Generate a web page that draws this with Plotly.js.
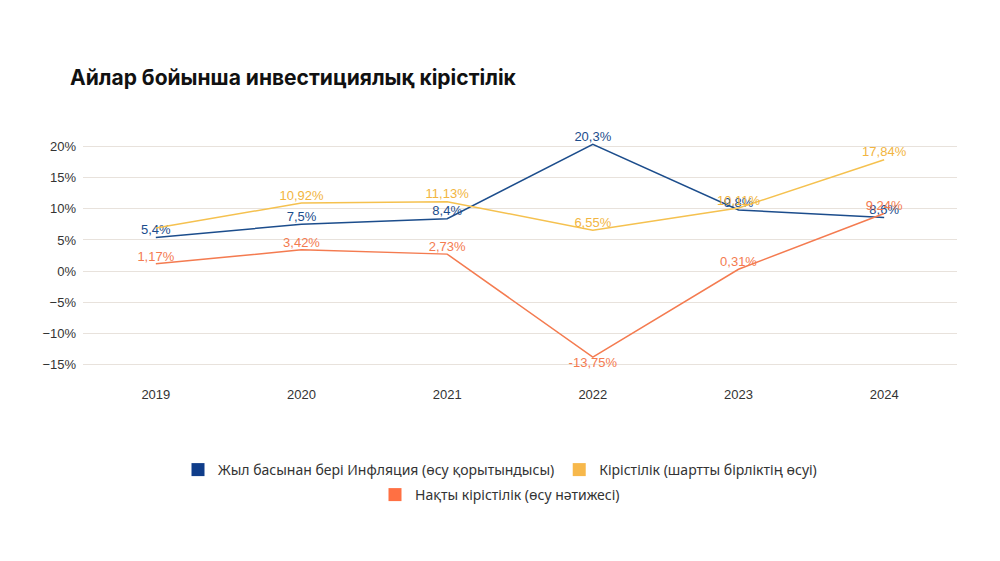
<!DOCTYPE html>
<html><head><meta charset="utf-8">
<script src="https://cdn.plot.ly/plotly-3.0.1.min.js"></script>
<style>html,body{margin:0;padding:0;background:#fff;}</style>
</head><body><div id="chart" style="width:1000px;height:561px;"></div>
<script>
const years = ['2019','2020','2021','2022','2023','2024'];
const inflation = [5.4, 7.5, 8.4, 20.3, 9.8, 8.6];
const yieldNominal = [6.9, 10.92, 11.13, 6.55, 10.11, 17.84];
const yieldReal = [1.17, 3.42, 2.73, -13.75, 0.31, 9.24];
const yieldNominalShowLabel = [false, true, true, true, true, true];
const seriesNames = ['Жыл басынан бері Инфляция (өсу қорытындысы)', 'Кірістілік (шартты бірліктің өсуі)', 'Нақты кірістілік (өсу нәтижесі)'];
const colors = ['#1c4d8c', '#f5c14f', '#f47b50'];
const legendColors = ['#0f3d8a', '#f7b84b', '#ff7043'];

const fmt = v => String(v).replace('.', ',') + '%';
const labelFont = c => ({family: 'Liberation Sans, Arial, sans-serif', size: 13, color: c});

const traces = [
  {x: years, y: inflation, mode: 'lines+text', line: {color: colors[0], width: 1.5},
   text: inflation.map(fmt), textposition: 'top center', textfont: labelFont(colors[0]),
   showlegend: false, hoverinfo: 'skip', cliponaxis: false},
  {x: years, y: yieldNominal, mode: 'lines+text', line: {color: colors[1], width: 1.5},
   text: yieldNominal.map((v, i) => yieldNominalShowLabel[i] ? fmt(v) : ''), textposition: 'top center',
   textfont: labelFont('#f2b541'), showlegend: false, hoverinfo: 'skip', cliponaxis: false},
  {x: years, y: yieldReal, mode: 'lines+text', line: {color: colors[2], width: 1.5},
   text: yieldReal.map(fmt), textposition: yieldReal.map(v => v < 0 ? 'bottom center' : 'top center'),
   textfont: labelFont(colors[2]), showlegend: false, hoverinfo: 'skip', cliponaxis: false}
];
seriesNames.forEach((n, i) => {
  traces.push({x: [null], y: [null], mode: 'markers', name: n,
    marker: {symbol: 'square', size: 13, color: legendColors[i]},
    legend: i < 2 ? 'legend' : 'legend2', hoverinfo: 'skip'});
});

const legFont = {family: 'Noto Sans, sans-serif', size: 14, color: '#333'};
const layout = {
  width: 1000, height: 561,
  margin: {l: 83, r: 43, t: 140, b: 193},
  paper_bgcolor: '#fff', plot_bgcolor: '#fff',
  title: {text: 'Айлар бойынша инвестициялық кірістілік', x: 0.07, xanchor: 'left', xref: 'container',
    y: 1 - 78/561, yanchor: 'middle', yref: 'container',
    font: {family: 'Inter, Noto Sans, sans-serif', size: 21, color: '#111', weight: 700}},
  xaxis: {type: 'category', range: [-0.5, 5.5], showgrid: false, zeroline: false, showline: false,
    ticks: '', ticklabelstandoff: 17,
    tickfont: {family: 'Liberation Sans, Arial, sans-serif', size: 13, color: '#333'}},
  yaxis: {range: [-15.5, 21], dtick: 5, tick0: 0, ticksuffix: '%', showgrid: true, gridcolor: '#e8e2dc',
    gridwidth: 1, zeroline: false, showline: false, ticks: '', ticklabelstandoff: 6,
    tickfont: {family: 'Liberation Sans, Arial, sans-serif', size: 13, color: '#333'}},
  showlegend: true,
  legend: {orientation: 'h', x: 0.5, xref: 'container', xanchor: 'center', y: 1 - 470/561, yref: 'container', yanchor: 'middle',
    font: legFont, itemwidth: 30, tracegroupgap: 0, bgcolor: 'rgba(0,0,0,0)'},
  legend2: {orientation: 'h', x: 0.5, xref: 'container', xanchor: 'center', y: 1 - 495/561, yref: 'container', yanchor: 'middle',
    font: legFont, itemwidth: 30, bgcolor: 'rgba(0,0,0,0)'}
};
Plotly.newPlot('chart', traces, layout, {displayModeBar: false, staticPlot: true});
</script></body></html>
